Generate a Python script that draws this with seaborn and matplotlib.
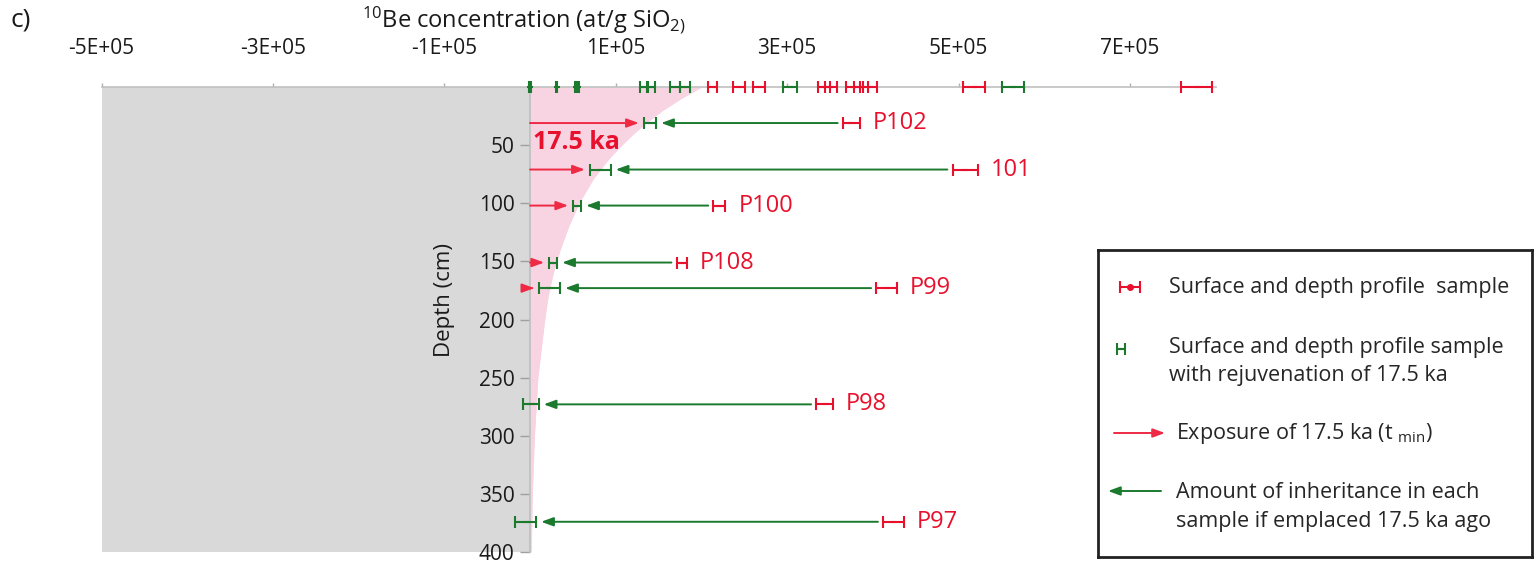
import matplotlib
matplotlib.use('Agg')
import matplotlib.pyplot as plt
import numpy as np
import pandas as pd
import seaborn as sns


# surface samples (depth 0), measured and rejuvenated by 17.5 ka
surf_red = [2.13e5, 2.44e5, 2.67e5, 3.43e5, 3.51e5, 3.77e5, 3.86e5, 3.97e5, 5.18e5, 7.78e5]
surf_red_err = [0.05e5, 0.07e5, 0.07e5, 0.07e5, 0.07e5, 0.08e5, 0.08e5, 0.08e5, 0.13e5, 0.18e5]
surf_green = [0.0, 0.31e5, 0.54e5, 0.56e5, 1.33e5, 1.41e5, 1.69e5, 1.81e5, 3.03e5, 5.64e5]
surf_green_err = [0.01e5, 0.01e5, 0.01e5, 0.01e5, 0.05e5, 0.05e5, 0.06e5, 0.06e5, 0.08e5, 0.13e5]

# depth profile samples
prof_names = ['P102', '101', 'P100', 'P108', 'P99', 'P98', 'P97']
prof_depth = [31, 71, 102, 151, 173, 273, 374]
prof_red = [3.75e5, 5.08e5, 2.21e5, 1.77e5, 4.16e5, 3.44e5, 4.24e5]
prof_red_err = [0.10e5, 0.15e5, 0.07e5, 0.06e5, 0.12e5, 0.10e5, 0.12e5]
prof_green = [1.40e5, 0.82e5, 0.55e5, 0.27e5, 0.23e5, 0.01e5, -0.05e5]
prof_green_err = [0.07e5, 0.12e5, 0.045e5, 0.045e5, 0.12e5, 0.09e5, 0.12e5]

# 17.5 ka production curve
curve_depth = [0, 10, 20, 30, 40, 50, 60, 70, 80, 90, 100, 120, 140, 160, 180, 200, 250, 300, 350, 400]
curve_conc = [2.0e5, 1.76e5, 1.55e5, 1.37e5, 1.21e5, 1.07e5, 0.94e5, 0.83e5, 0.73e5, 0.65e5,
              0.57e5, 0.45e5, 0.35e5, 0.27e5, 0.21e5, 0.17e5, 0.09e5, 0.05e5, 0.025e5, 0.013e5]

x_ticks = [-5e5, -3e5, -1e5, 1e5, 3e5, 5e5, 7e5]
x_labels = ['-5E+05', '-3E+05', '-1E+05', '1E+05', '3E+05', '5E+05', '7E+05']
y_ticks = [50, 100, 150, 200, 250, 300, 350, 400]

RED = '#e8112d'
ARED = '#ee2a45'
GREEN = '#1b7a2e'
PINK = '#f8d3e2'
GRAY = '#d9d9d9'

sns.set_theme(style='white')
plt.rcParams['font.family'] = ['Open Sans', 'DejaVu Sans']
plt.rcParams['mathtext.default'] = 'regular'

fig = plt.figure(figsize=(15.37, 5.66), dpi=100)
ax = fig.add_axes([101.5 / 1537, 1 - 552 / 566, (1215.6 - 101.5) / 1537, (552 - 87) / 566])
ax.set_xlim(-5e5, 8e5)
ax.set_ylim(400, 0)

ax.axvspan(-5e5, 0, color=GRAY, lw=0, zorder=0)
curve = pd.DataFrame({'depth': curve_depth, 'conc': curve_conc})
ax.fill_betweenx(curve['depth'], 0, curve['conc'], color=PINK, lw=0, zorder=1)
sns.lineplot(data=curve, x='conc', y='depth', orient='y', color=PINK, lw=1, ax=ax, zorder=1)
ax.set_xlabel('')
ax.set_ylabel('')


def draw_err(x, y, xerr, color, ms=4):
    c = ax.errorbar(x, y, xerr=xerr, fmt='_', color=color, ecolor=color, elinewidth=1.5,
                    capsize=4, capthick=1.5, ms=ms, mew=1.5, zorder=6)
    for a in [c[0], *c[1], *c[2]]:
        a.set_clip_on(False)


draw_err(surf_red, [0] * len(surf_red), surf_red_err, RED)
draw_err(surf_green, [0] * len(surf_green), surf_green_err, GREEN)
draw_err(prof_red, prof_depth, prof_red_err, RED)
draw_err(prof_green, prof_depth, prof_green_err, GREEN)

gap = 0.06e5
arrow_kw = dict(arrowstyle='-|>,head_length=0.6,head_width=0.22', lw=1.4,
                shrinkA=0, shrinkB=0, mutation_scale=12)
for name, d, r, re, g, ge in zip(prof_names, prof_depth, prof_red, prof_red_err,
                                  prof_green, prof_green_err):
    tip = g - ge - gap
    if tip > 0.02e5:
        ax.annotate('', xy=(tip, d), xytext=(0, d),
                    arrowprops=dict(color=ARED, **arrow_kw), zorder=5)
    ax.annotate('', xy=(g + ge + gap, d), xytext=(r - re - gap, d),
                arrowprops=dict(color=GREEN, **arrow_kw), zorder=5)
    ax.text(r + re + 0.15e5, d, name, color=RED, fontsize=17, va='center', ha='left')

ax.text(0.03e5, 48, '17.5 ka', color=RED, fontsize=18, fontweight='bold',
        va='center', ha='left', zorder=7)
ax.text(-1.0e5, 183, 'Depth (cm)', rotation=90, fontsize=16, va='center', ha='center',
        color='#1a1a1a')

ax.xaxis.tick_top()
ax.set_xticks(x_ticks)
ax.set_xticklabels(x_labels)
ax.set_yticks(y_ticks)
ax.tick_params(axis='x', top=True, bottom=False, labeltop=True, labelbottom=False,
               length=3, width=1, color='#b0b0b0', pad=17, labelsize=15, labelcolor='#1a1a1a')
ax.tick_params(axis='y', left=True, length=7, width=1, color='#a0a0a0', pad=4,
               labelsize=15, labelcolor='#1a1a1a')
ax.spines['left'].set_position(('data', 0))
ax.spines['left'].set_color('#bfbfbf')
ax.spines['top'].set_color('#c0c0c0')
ax.spines['top'].set_linewidth(1.2)
ax.spines['right'].set_visible(False)
ax.spines['bottom'].set_visible(False)
ax.set_facecolor('none')

fig.text(10 / 1537, 1 - 20 / 566, 'c)', fontsize=19, va='center', color='#1a1a1a')
fig.text(362 / 1537, 1 - 20 / 566, r'$^{10}$Be concentration (at/g SiO$_{2)}$', fontsize=17,
         va='center', color='#1a1a1a')

# legend box drawn by hand
lax = fig.add_axes([1098 / 1537, 1 - 557 / 566, 434 / 1537, 307 / 566])
lax.set_xlim(1098, 1532)
lax.set_ylim(557, 250)
lax.set_xticks([])
lax.set_yticks([])
for s in lax.spines.values():
    s.set_color('#222222')
    s.set_linewidth(2)
    s.set_visible(True)

lax.errorbar([1130], [287], xerr=[10], fmt='o', ms=4, color=RED, elinewidth=1.5,
             capsize=4, capthick=1.5)
lax.errorbar([1121], [349], xerr=[4], fmt='_', ms=4, mew=1.5, color=GREEN, elinewidth=1.5,
             capsize=4, capthick=1.5)
lax.annotate('', xy=(1165, 433), xytext=(1114, 433), arrowprops=dict(color=ARED, **arrow_kw))
lax.annotate('', xy=(1108, 491), xytext=(1161, 491), arrowprops=dict(color=GREEN, **arrow_kw))

leg_fs = 15.5
lax.text(1169, 287, 'Surface and depth profile  sample', fontsize=leg_fs, va='center')
lax.text(1169, 347, 'Surface and depth profile sample', fontsize=leg_fs, va='center')
lax.text(1169, 375, 'with rejuvenation of 17.5 ka', fontsize=leg_fs, va='center')
lax.text(1176, 434, r'Exposure of 17.5 ka (t $_{min}$)', fontsize=leg_fs, va='center')
lax.text(1176, 493, 'Amount of inheritance in each', fontsize=leg_fs, va='center')
lax.text(1176, 522, 'sample if emplaced 17.5 ka ago', fontsize=leg_fs, va='center')

fig.savefig('out.png', dpi=100)
